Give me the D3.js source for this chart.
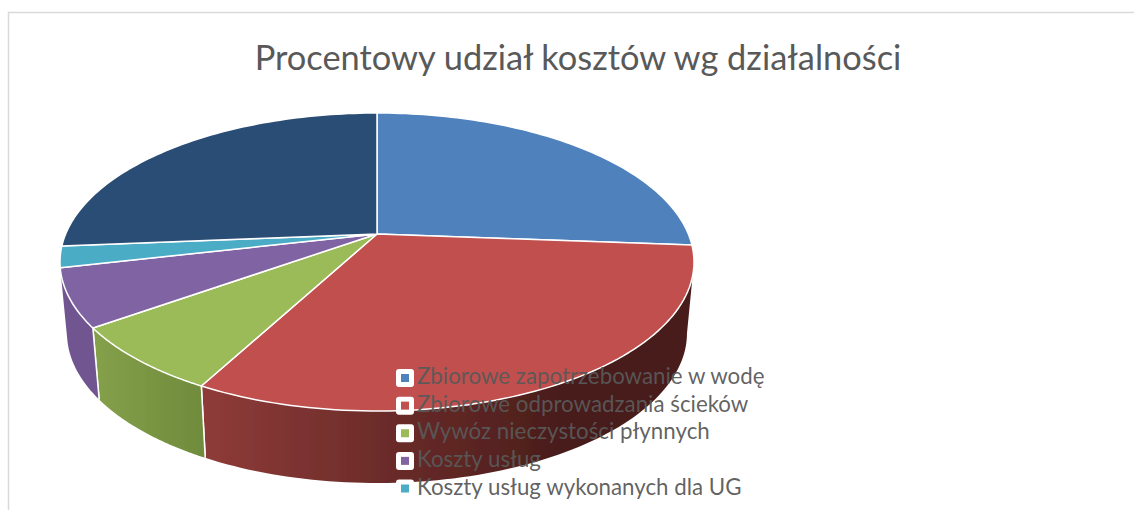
<!DOCTYPE html>
<html><head><meta charset="utf-8">
<script src="https://cdn.jsdelivr.net/npm/d3@7"></script>
<style>html,body{margin:0;padding:0;background:#fff}svg{display:block}</style></head>
<body><svg id="c" width="1134" height="510"></svg>
<script>
const titleText = "Procentowy udział kosztów wg działalności";
const categories = ["Zbiorowe zapotrzebowanie w wodę","Zbiorowe odprowadzania ścieków","Wywóz nieczystości płynnych","Koszty usług","Koszty usług wykonanych dla UG",""];
const values = [26.2,31.6,7.3,6.3,2.3,26.3];
const topColors = ["#4f81bd","#c0504d","#9bbb59","#8064a2","#4bacc6","#2c4d75"];
const wallFrom = ["#3b618e","#8e3b38","#84a04a","#6f5490","#3a8296","#203a58"];
const wallTo = ["#3b618e","#4a1d1b","#6f8b3c","#654c82","#3a8296","#203a58"];
const legendShown = 5;

const svg = d3.select("#c");
const top_ = {cx:377,cy:262,rx:317,ry:149}, low = {cx:377,cy:333,rx:310,ry:150};
const k = 0.827; // projective foreshortening around the apex
const apex = [377,234];
const toT = th => { // pie angle -> ellipse parameter, perspective mapping
  const turns = Math.round(th/(2*Math.PI));
  const r = th - turns*2*Math.PI;
  return 2*Math.atan(k*Math.tan(r/2)) + turns*2*Math.PI;
};
const pt = (e,t) => [e.cx+e.rx*Math.sin(t), e.cy-e.ry*Math.cos(t)];
const arcs = d3.pie().sort(null).value(d=>d)(values);
const line = d3.line();
const sample = (a,b,n=80)=>d3.range(n+1).map(i=>a+(b-a)*i/n);

const defs = svg.append("defs");
values.forEach((v,i)=>{
  const g = defs.append("linearGradient").attr("id","w"+i).attr("gradientUnits","userSpaceOnUse")
    .attr("x1",i===1?205:95).attr("x2",i===1?560:205).attr("y1",0).attr("y2",0);
  g.append("stop").attr("offset",0).attr("stop-color",wallFrom[i]);
  g.append("stop").attr("offset",1).attr("stop-color",wallTo[i]);
});
const soft = defs.append("filter").attr("id","soft");
soft.append("feGaussianBlur").attr("stdDeviation",0.5);

// chart frame
svg.append("path").attr("d","M8.5,510V12.5H1134").attr("fill","none").attr("stroke","#d9d9d9").attr("stroke-width",1.5);

const pie = svg.append("g").attr("filter","url(#soft)");
// walls
arcs.forEach((a,i)=>{
  const t0 = Math.max(toT(a.startAngle),Math.PI*0.5), t1 = Math.min(toT(a.endAngle),Math.PI*1.5);
  if(t1-t0<0.05) return;
  const ts = sample(t0,t1);
  const poly = ts.map(t=>pt(top_,t)).concat(ts.slice().reverse().map(t=>pt(low,t)));
  pie.append("path").attr("d",line(poly)+"Z").attr("fill",`url(#w${i})`);
  [t0,t1].forEach(t=>{
    if(t>Math.PI*0.6 && t<Math.PI*1.45)
      pie.append("path").attr("d",line([pt(top_,t),pt(low,t)])).attr("stroke","#fff").attr("stroke-width",1.5).attr("fill","none");
  });
});
// top faces
arcs.forEach((a,i)=>{
  const ts = sample(toT(a.startAngle),toT(a.endAngle));
  const poly = [apex].concat(ts.map(t=>pt(top_,t)));
  pie.append("path").attr("d",line(poly)+"Z").attr("fill",topColors[i])
    .attr("stroke","#fff").attr("stroke-width",1.5).attr("stroke-linejoin","round");
});

// title
svg.append("text").attr("x",578).attr("y",70).attr("text-anchor","middle")
  .attr("font-family","Lato").attr("font-size",34.4).attr("fill","#595959").text(titleText);

// legend
const ly = d3.scalePoint().domain(d3.range(legendShown)).range([378,488.5]);
d3.range(legendShown).forEach(i=>{
  const y = ly(i);
  svg.append("rect").attr("x",396).attr("y",y-9).attr("width",18).attr("height",18).attr("rx",3).attr("fill","#fff");
  svg.append("rect").attr("x",401).attr("y",y-4).attr("width",8).attr("height",8).attr("fill",topColors[i]);
  svg.append("text").attr("x",417).attr("y",y+6).attr("font-family","Lato").attr("font-size",22.3)
    .attr("fill","#595959").attr("fill-opacity",0.95).text(categories[i]);
});
</script></body></html>
